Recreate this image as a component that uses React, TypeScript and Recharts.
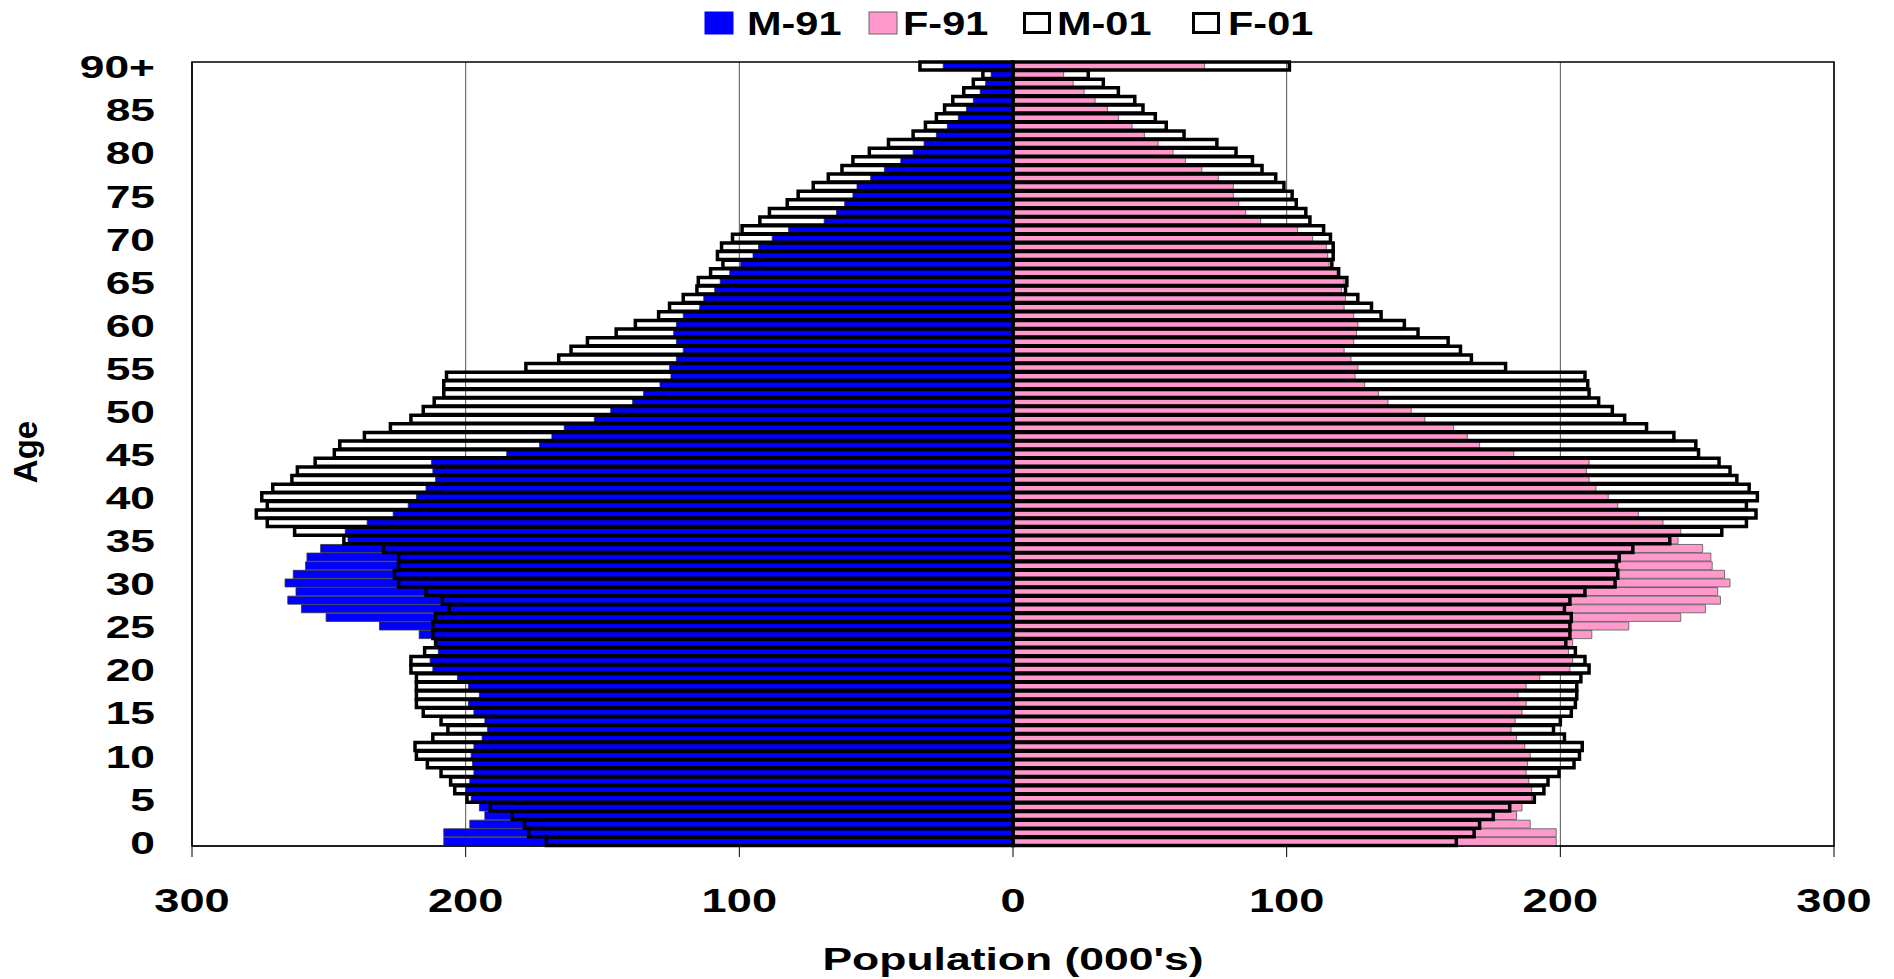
import React from "react";
import { BarChart, Bar, XAxis, YAxis, CartesianGrid, ReferenceArea, Label } from "recharts";

// age groups 0 .. 90+
const AGES = Array.from({ length: 91 }, (_, i) => (i === 90 ? "90+" : String(i)));

// population in thousands, index = age (males kept positive here)
const M91 = [
  208, 208, 198.5, 193, 195, 198, 200, 198.5, 197, 197.5,
  198, 197, 194, 192, 193, 197, 199, 195, 199, 203,
  212, 213, 210, 211, 217, 231.5, 251, 260, 265, 262,
  266, 263, 258.5, 258, 253, 243, 244, 236, 226.5, 221,
  218, 214.5, 211, 212, 212.5, 185, 173, 168.5, 164, 153,
  147, 139, 135, 129, 125, 125.5, 123, 120.5, 123, 124,
  123, 120.5, 114.5, 113, 109, 107, 103.5, 99.5, 95, 93,
  88, 82, 69, 64.5, 61.5, 58.5, 57, 52, 47, 41,
  36.5, 32.5, 28, 24, 20, 17, 14.5, 12, 10, 8,
  25.5,
];

const F91 = [
  198.5, 198.5, 189, 184, 186, 189.5, 189.5, 188.5, 187.5, 188,
  189, 187, 184, 182, 183.5, 186, 187.5, 184.5, 187.5, 192.5,
  203.5, 204.5, 203, 204.5, 211.5, 225, 244, 253, 258.5, 257.5,
  262, 260, 255.5, 255, 252, 243, 244, 237.5, 228.5, 221,
  217.5, 213, 210.5, 209.5, 210.5, 183, 170.5, 166, 161, 150.5,
  145.5, 137, 133.5, 128.5, 125, 126, 123.5, 121, 124.5, 125.5,
  126, 124.5, 121, 121.5, 120, 121, 118.5, 115.5, 115, 114.5,
  109.5, 104, 90.5, 85, 82.5, 80.5, 80.5, 75, 69, 63,
  58.5, 53, 48, 43.5, 38.5, 34.5, 30, 26, 22, 18.5,
  70,
];

const M01 = [
  170.5, 177, 178.5, 183, 191, 199.5, 204, 205.5, 209, 214,
  218, 218.5, 212, 206.5, 209, 215.5, 218, 218, 218, 218,
  220, 220, 215, 211, 212, 212, 211, 206, 208.5, 214.5,
  224.5, 226, 224.5, 224.5, 230, 244.5, 262.5, 272.5, 276.5, 272.5,
  274.5, 270.5, 263.5, 261.5, 255, 248, 246, 237, 227.5, 220,
  215.5, 211.5, 208, 208, 207, 178, 166, 161.5, 155.5, 145,
  138, 129.5, 125.5, 120.5, 115.5, 115, 110.5, 106, 108, 106.5,
  102.5, 99, 92.5, 89, 82.5, 78.5, 73, 67.5, 62.5, 58.5,
  52.5, 45.5, 36.5, 32, 28, 25, 22, 18, 14.5, 11,
  34,
];

const F01 = [
  162, 168.5, 170.5, 175.5, 181.5, 190.5, 194, 195.5, 199.5, 205,
  207, 208, 201.5, 197.5, 200, 204, 205.5, 206, 206, 207.5,
  210.5, 209, 205.5, 202, 203.5, 203.5, 204, 201.5, 203.5, 209,
  220, 221, 220.5, 221.5, 226.5, 240, 259, 268, 271.5, 268,
  272, 269, 264.5, 262, 258, 250.5, 249.5, 241.5, 231.5, 223.5,
  219, 214, 210.5, 210, 209, 180, 167.5, 163.5, 159, 148,
  143, 134.5, 131, 126, 121.5, 122, 119, 116.5, 117, 117,
  116, 113.5, 108.5, 107, 103.5, 102, 99, 96, 91, 87.5,
  81.5, 74.5, 62.5, 56, 52, 47.5, 44.5, 38.5, 33, 27.5,
  101,
];

const X_TICKS = [-300, -200, -100, 0, 100, 200, 300];

const SERIES = [
  { key: "m91", name: "M-91", fill: "#0000FF", stroke: "#333", width: 0.8 },
  { key: "f91", name: "F-91", fill: "#FF99CC", stroke: "#555", width: 0.8 },
  { key: "m01", name: "M-01", fill: "none", stroke: "#000", width: 3.5 },
  { key: "f01", name: "F-01", fill: "none", stroke: "#000", width: 3.5 },
];

const rows = AGES.map((age, i) => ({
  age,
  m91: -M91[i],
  f91: F91[i],
  m01: -M01[i],
  f01: F01[i],
}));

const FONT = "'Liberation Sans', Arial, Helvetica, sans-serif";

function Stretch({ x, y, sx, size, anchor = "middle", children }: any) {
  return (
    <text
      transform={`translate(${x},${y}) scale(${sx},1)`}
      textAnchor={anchor}
      fontSize={size}
      fontWeight="bold"
      fontFamily={FONT}
      fill="#000"
    >
      {children}
    </text>
  );
}

const YTick = (props: any) => (
  <Stretch x={155} y={props.y + 12} sx={1.43} size={31} anchor="end">
    {props.payload.value}
  </Stretch>
);

const XTick = (props: any) => (
  <Stretch x={props.x} y={912} sx={1.33} size={34}>
    {Math.abs(props.payload.value)}
  </Stretch>
);

const LEGEND_POS = [
  { box: 705, text: 747 },
  { box: 869, text: 903 },
  { box: 1023, text: 1057 },
  { box: 1192, text: 1228 },
];

function TopLegend() {
  return (
    <svg width={1894} height={50} style={{ position: "absolute", left: 0, top: 0 }}>
      {SERIES.map((s, i) => {
        const p = LEGEND_POS[i];
        const open = s.fill === "none";
        return (
          <g key={s.key}>
            <rect
              x={p.box + (open ? 1.5 : 0)}
              y={open ? 13.5 : 12}
              width={open ? 25 : 28}
              height={open ? 19 : 22}
              fill={open ? "#fff" : s.fill}
              stroke={open ? "#000" : s.key === "f91" ? "#666" : s.fill}
              strokeWidth={open ? 3 : 1}
            />
            <Stretch x={p.text} y={35} sx={1.22} size={34} anchor="start">
              {s.name}
            </Stretch>
          </g>
        );
      })}
    </svg>
  );
}

export default function App() {
  return (
    <div style={{ position: "absolute", left: 0, top: 0, width: 1894, height: 979, background: "#fff" }}>
      <BarChart
        width={1894}
        height={979}
        data={rows}
        layout="vertical"
        barSize={8}
        barGap={-8}
        margin={{ top: 62, right: 60, left: 0, bottom: 0 }}
      >
        <CartesianGrid vertical horizontal={false} stroke="#555" strokeWidth={1} />
        <XAxis
          type="number"
          domain={[-300, 300]}
          ticks={X_TICKS}
          interval={0}
          height={133}
          stroke="#000"
          tickSize={11}
          tick={<XTick />}
        >
          <Label
            content={() => (
              <Stretch x={1013} y={970} sx={1.39} size={32}>
                Population (000's)
              </Stretch>
            )}
          />
        </XAxis>
        <YAxis
          type="category"
          dataKey="age"
          reversed
          width={192}
          interval={4}
          stroke="#000"
          tickLine={false}
          tick={<YTick />}
        >
          <Label
            content={() => (
              <text
                transform="translate(37,452) rotate(-90)"
                textAnchor="middle"
                fontSize={33}
                fontWeight="bold"
                fontFamily={FONT}
                fill="#000"
              >
                Age
              </text>
            )}
          />
        </YAxis>
        <ReferenceArea x1={-300} x2={300} fill="none" stroke="#000" strokeWidth={1.5} />
        {SERIES.map((s) => (
          <Bar
            key={s.key}
            dataKey={s.key}
            name={s.name}
            fill={s.fill}
            stroke={s.stroke}
            strokeWidth={s.width}
            isAnimationActive={false}
          />
        ))}
      </BarChart>
      <TopLegend />
    </div>
  );
}
